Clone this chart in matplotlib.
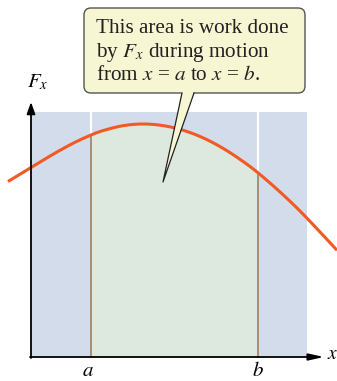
#!/usr/bin/env python3
"""Work as area under an F_x(x) curve between x = a and x = b."""
import matplotlib
matplotlib.use("Agg")
import matplotlib.pyplot as plt
import numpy as np
from matplotlib.patches import FancyBboxPatch, Polygon, Rectangle

plt.rcParams["font.family"] = ["Liberation Serif", "DejaVu Serif"]
plt.rcParams["mathtext.fontset"] = "stix"

# curve F_x(x) (origin at the axes corner)
CURVE_X = [-23, 0, 22, 42, 60, 72, 92, 112, 132, 152, 172, 192, 212, 227, 247, 267, 287, 306]
CURVE_F = [175.5, 189.5, 202.7, 213.7, 222, 226.4, 231.3, 233, 231.4, 226.8, 219.2, 208.7,
           195.6, 184.2, 166.9, 148, 127.2, 106.7]
X_A, X_B = 60, 227
PANEL_W, PANEL_H = 276, 245
BUBBLE_LINES = ["This area is work done",
                r"by $F_x$ during motion",
                r"from $x$ = $a$ to $x$ = $b$."]

BLUE = "#d3dcea"
GREEN = "#dde9df"
ORANGE = "#f15a24"
BROWN = "#a38a64"
CREAM = "#f7f6d3"


def smooth(xs, ys, n=400):
    """Cubic Hermite through the read points, only to draw them smoothly."""
    xs = np.asarray(xs, float)
    ys = np.asarray(ys, float)
    d = np.empty_like(ys)
    d[1:-1] = (ys[2:] - ys[:-2]) / (xs[2:] - xs[:-2])
    d[0] = (ys[1] - ys[0]) / (xs[1] - xs[0])
    d[-1] = (ys[-1] - ys[-2]) / (xs[-1] - xs[-2])
    gx = np.linspace(xs[0], xs[-1], n)
    k = np.clip(np.searchsorted(xs, gx) - 1, 0, len(xs) - 2)
    h = xs[k + 1] - xs[k]
    t = (gx - xs[k]) / h
    gy = ((2 * t**3 - 3 * t**2 + 1) * ys[k] + (t**3 - 2 * t**2 + t) * h * d[k]
          + (-2 * t**3 + 3 * t**2) * ys[k + 1] + (t**3 - t**2) * h * d[k + 1])
    return gx, gy


cx, cf = smooth(CURVE_X, CURVE_F)

fig = plt.figure(figsize=(3.37, 3.81), dpi=100)
ax = fig.add_axes([0, 0, 1, 1])
ax.set_xlim(-31, 306)
ax.set_ylim(-24, 357)
ax.axis("off")

# background panel and area between a and b
ax.add_patch(Rectangle((0, 0), PANEL_W, PANEL_H, facecolor=BLUE, edgecolor="none", zorder=1))
m = (cx >= X_A) & (cx <= X_B)
fx = np.concatenate([[X_A], cx[m], [X_B]])
ff = np.concatenate([[np.interp(X_A, cx, cf)], cf[m], [np.interp(X_B, cx, cf)]])
ax.fill_between(fx, 0, ff, color=GREEN, lw=0, zorder=2)

for xv in (X_A, X_B):
    fv = np.interp(xv, cx, cf)
    ax.plot([xv, xv], [0, fv], color=BROWN, lw=1.3, zorder=3)
    ax.plot([xv, xv], [fv, PANEL_H], color="white", lw=1.6, zorder=3)

ax.plot(cx, cf, color=ORANGE, lw=2.2, solid_capstyle="butt", zorder=4)

# axes with arrows
ax.annotate("", xy=(0, 255), xytext=(0, -1),
            arrowprops=dict(arrowstyle="-|>,head_length=0.7,head_width=0.25",
                            color="black", lw=1.3, shrinkA=0, shrinkB=0), zorder=5)
ax.annotate("", xy=(293, 0), xytext=(-1, 0),
            arrowprops=dict(arrowstyle="-|>,head_length=0.9,head_width=0.2",
                            color="black", lw=1.3, shrinkA=0, shrinkB=0), zorder=5)
ax.text(-4, 270, r"$F_x$", fontsize=15, ha="left", va="baseline")
ax.text(296, -2, r"$x$", fontsize=14, ha="left", va="baseline")
ax.text(X_A - 3, -19, r"$a$", fontsize=15, ha="center", va="baseline")
ax.text(X_B, -19, r"$b$", fontsize=15, ha="center", va="baseline")

# speech bubble
ax.add_patch(FancyBboxPatch((53, 264), 221, 85, boxstyle="round,pad=0,rounding_size=7",
                            facecolor=CREAM, edgecolor="#555555", lw=1.0, zorder=6))
tail = [(151, 266), (163, 266), (132, 175)]
ax.add_patch(Polygon(tail, closed=True, facecolor=CREAM, edgecolor="none", zorder=7))
ax.plot([151, 132, 163], [264, 175, 264], color="#222222", lw=0.9, zorder=8)

for i, line in enumerate(BUBBLE_LINES):
    ax.text(65, 324 - 23.5 * i, line, fontsize=15.2, ha="left", va="baseline",
            color="#222222", zorder=9)

fig.savefig("out.png", dpi=100)
